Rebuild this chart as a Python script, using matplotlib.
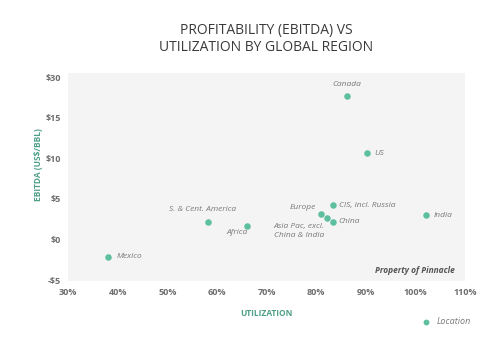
import matplotlib.pyplot as plt

plt.rcParams['font.family'] = ['Open Sans', 'DejaVu Sans']

# data
regions = ['Mexico', 'S. & Cent. America', 'Africa', 'Canada', 'US',
           'CIS, incl. Russia', 'Europe', 'Asia Pac, excl.\nChina & India',
           'China', 'India']
utilization = [38.1, 58.2, 66.1, 86.2, 90.3, 83.4, 81.0, 82.2, 83.4, 102.2]
ebitda = [-2.1, 2.2, 1.7, 17.7, 10.6, 4.2, 3.1, 2.6, 2.2, 3.0]

x_ticks = [30, 40, 50, 60, 70, 80, 90, 100, 110]
x_labels = ['30%', '40%', '50%', '60%', '70%', '80%', '90%', '100%', '110%']
y_ticks = [-5, 0, 5, 10, 15, 20]
y_labels = ['-$5', '$0', '$5', '$10', '$15', '$30']

# label placement (offset in points, horizontal alignment)
label_pos = [((6, 0), 'left'), ((-4, 9), 'center'), ((-7, -5), 'center'),
             ((0, 8), 'center'), ((5, 0), 'left'), ((4, 0), 'left'),
             ((-4, 5), 'right'), ((-2, -9), 'right'), ((4, 0), 'left'),
             ((5, 0), 'left')]

teal = '#5dbf9f'
grey_txt = '#7a7a7a'

fig = plt.figure(figsize=(5, 3.4), dpi=100)
ax = fig.add_axes([0.136, 0.1735, 0.794, 0.6115])
ax.set_facecolor('#f4f4f4')

ax.scatter(utilization, ebitda, s=22, color=teal, zorder=3, label='Location',
           linewidths=0)

for name, x, y, (off, ha) in zip(regions, utilization, ebitda, label_pos):
    ax.annotate(name, (x, y), xytext=off, textcoords='offset points',
                ha=ha, va='center', fontsize=6, style='italic',
                color=grey_txt, linespacing=1.3)

ax.set_xlim(30, 110)
ax.set_ylim(-5.12, 20.5)
ax.set_xticks(x_ticks)
ax.set_xticklabels(x_labels)
ax.set_yticks(y_ticks)
ax.set_yticklabels(y_labels)
ax.tick_params(length=0, labelsize=6.5, labelcolor='#6e6e6e', pad=5)
for lab in ax.get_xticklabels() + ax.get_yticklabels():
    lab.set_fontweight('bold')
for s in ax.spines.values():
    s.set_visible(False)

ax.set_xlabel('UTILIZATION', fontsize=6, color='#4e9e88', fontweight='bold',
              labelpad=9)
ax.set_ylabel('EBITDA (US$/BBL)', fontsize=6, color='#4e9e88',
              fontweight='bold')
ax.yaxis.set_label_coords(-0.062, 0.56)

ax.text(0.975, 0.05, 'Property of Pinnacle', transform=ax.transAxes,
        ha='right', va='center', fontsize=6, style='italic',
        fontweight='bold', color='#555555')

fig.text(0.533, 0.885, 'PROFITABILITY (EBITDA) VS\nUTILIZATION BY GLOBAL REGION',
         ha='center', va='center', fontsize=10, color='#3a3a3a',
         linespacing=1.15)

ax.legend(loc='center', bbox_to_anchor=(0.888, 0.053), bbox_transform=fig.transFigure,
          frameon=False, handletextpad=0.2, markerscale=0.9,
          prop={'style': 'italic', 'size': 6.5}, labelcolor=grey_txt)

fig.savefig('out.png', dpi=100)
